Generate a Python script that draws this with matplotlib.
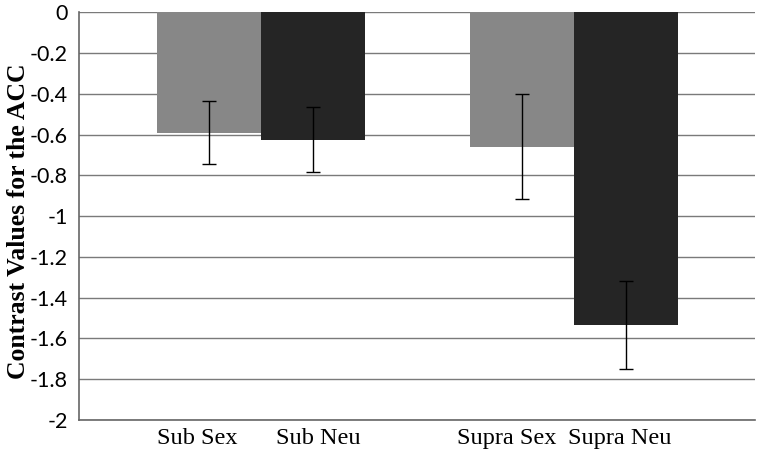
import matplotlib.pyplot as plt
import matplotlib.transforms as mtransforms
import numpy as np

# values
labels = ["Sub Sex", "Sub Neu", "Supra Sex", "Supra Neu"]
values = [-0.59, -0.625, -0.66, -1.535]
errors = [0.155, 0.16, 0.258, 0.215]
positions = [0, 1, 3, 4]
bar_colors = ["#878787", "#252525", "#878787", "#252525"]
yticks = np.round(np.arange(0, -2.01, -0.2), 1)

# small horizontal nudges of the category labels (pixels)
label_shift = [-12, 5, -15, -6]

fig = plt.figure(figsize=(7.6, 4.57), dpi=100)
ax = fig.add_axes([0.104, 0.081, 0.889, 0.892])

# horizontal gridlines behind the bars
for y in yticks:
    ax.axhline(y, color="#7a7a7a", linewidth=1.0, zorder=0)

ax.bar(positions, values, width=1.0, color=bar_colors, zorder=2)
ax.errorbar(positions, values, yerr=errors, fmt="none", ecolor="black",
            elinewidth=1.0, capsize=5, capthick=1.0, zorder=3)

ax.set_xlim(-1.246, 5.235)
ax.set_ylim(-2, 0)
ax.set_yticks(yticks)
ax.set_yticklabels(["0" if v == 0 else ("%g" % v) for v in yticks],
                   fontsize=15.5, family="Lato")
ax.set_xticks(positions)
ax.set_xticklabels(labels, fontsize=17.5, family="Liberation Serif")
ax.tick_params(axis="both", length=0)
ax.tick_params(axis="y", pad=8)
ax.tick_params(axis="x", pad=6)
for lab, dx in zip(ax.get_xticklabels(), label_shift):
    lab.set_transform(lab.get_transform() +
                      mtransforms.ScaledTranslation(dx / 100, 0, fig.dpi_scale_trans))

ax.set_ylabel("Contrast Values for the ACC", fontsize=18.5, fontweight="bold",
              family="Liberation Serif")
ax.yaxis.set_label_coords(-0.072, 0.487)

ax.spines["top"].set_visible(False)
ax.spines["right"].set_visible(False)
ax.spines["left"].set_color("#666666")
ax.spines["bottom"].set_color("#666666")
ax.spines["left"].set_linewidth(1.2)
ax.spines["bottom"].set_linewidth(1.2)

fig.savefig("out.png", dpi=100, facecolor="white")
